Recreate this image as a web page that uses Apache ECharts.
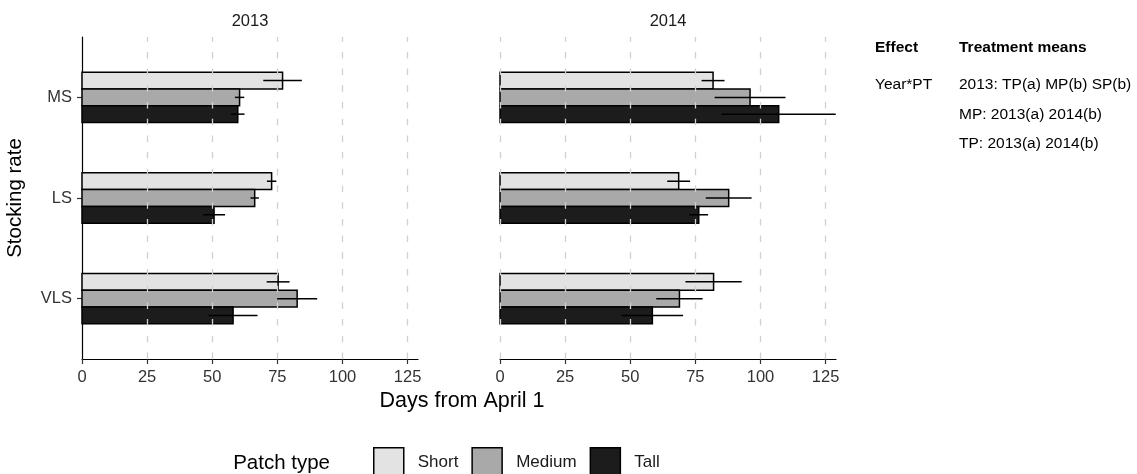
<!DOCTYPE html>
<html>
<head>
<meta charset="utf-8">
<script src="https://cdn.jsdelivr.net/npm/echarts@6/dist/echarts.min.js"></script>
<style>
  html, body { margin: 0; padding: 0; background: #fff; }
  #chart { width: 1137px; height: 474px; }
</style>
</head>
<body>
<div id="chart"></div>
<script>
// Stocking rates, top to bottom
const rates = ['MS', 'LS', 'VLS'];
const years = ['2013', '2014'];
const patchTypes = ['Short', 'Medium', 'Tall'];
const tickValues = [0, 25, 50, 75, 100, 125];

// Mean days from April 1 (MS, LS, VLS) and standard errors
const short2013 = [77.0, 72.8, 75.3];
const short2013Se = [7.4, 1.8, 4.4];
const medium2013 = [60.5, 66.3, 82.6];
const medium2013Se = [1.8, 1.6, 7.7];
const tall2013 = [59.8, 50.7, 58.0];
const tall2013Se = [2.6, 4.2, 9.4];

const short2014 = [81.8, 68.6, 82.0];
const short2014Se = [4.4, 4.4, 10.8];
const medium2014 = [96.0, 87.8, 68.9];
const medium2014Se = [13.6, 8.8, 8.9];
const tall2014 = [107.0, 76.3, 58.5];
const tall2014Se = [21.9, 3.6, 11.8];

// Side notes: effect and treatment-mean separations
const noteHeader = ['Effect', 'Treatment means'];
const noteEffect = ['Year*PT'];
const noteMeans = ['2013: TP(a) MP(b) SP(b)', 'MP: 2013(a) 2014(b)', 'TP: 2013(a) 2014(b)'];

const FONT = '"Liberation Sans", Arial, Helvetica, sans-serif';
const fills = { Short: '#e3e3e3', Medium: '#a9a9a9', Tall: '#1c1c1c' };
const offsets = { Short: 1 / 6, Medium: 0, Tall: -1 / 6 };
const BAR_H = 1 / 6;

const seriesByYear = {
  '2013': { Short: [short2013, short2013Se], Medium: [medium2013, medium2013Se], Tall: [tall2013, tall2013Se] },
  '2014': { Short: [short2014, short2014Se], Medium: [medium2014, medium2014Se], Tall: [tall2014, tall2014Se] }
};

// category index -> position on the value axis (MS on top)
const pos = i => rates.length - i;

function barRenderer(type) {
  return function (params, api) {
    const v = api.value(0);
    const y = api.value(1) + offsets[type];
    const p0 = api.coord([0, y]);
    const p1 = api.coord([v, y]);
    const h = api.size([0, BAR_H])[1];
    return {
      type: 'rect',
      shape: { x: p0[0], y: p0[1] - h / 2, width: p1[0] - p0[0], height: h },
      style: { fill: fills[type], stroke: '#000', lineWidth: 1.5 }
    };
  };
}

function errRenderer(type) {
  return function (params, api) {
    const y = api.value(2) + offsets[type];
    const a = api.coord([api.value(0), y]);
    const b = api.coord([api.value(1), y]);
    return {
      type: 'line',
      shape: { x1: a[0], y1: a[1], x2: b[0], y2: b[1] },
      style: { stroke: '#000', lineWidth: 1.5 }
    };
  };
}

const series = [];
years.forEach((yr, gi) => {
  // dashed vertical grid lines
  series.push({
    type: 'custom', xAxisIndex: gi, yAxisIndex: gi, silent: true,
    data: [], renderItem: () => null,
    markLine: {
      silent: true, symbol: 'none', animation: false,
      label: { show: false },
      lineStyle: { color: '#d0d0d0', width: 1.3, type: [6.5, 10.2] },
      data: tickValues.filter(t => gi === 1 || t > 0).map(t => ({ xAxis: t }))
    }
  });
  patchTypes.forEach(type => {
    const [means] = seriesByYear[yr][type];
    series.push({
      name: type, type: 'custom', xAxisIndex: gi, yAxisIndex: gi,
      itemStyle: { color: fills[type], borderColor: '#000', borderWidth: 1.5 },
      renderItem: barRenderer(type),
      encode: { x: 0, y: 1 },
      data: means.map((m, i) => [m, pos(i)])
    });
  });
  patchTypes.forEach(type => {
    const [means, se] = seriesByYear[yr][type];
    series.push({
      type: 'custom', xAxisIndex: gi, yAxisIndex: gi, silent: true,
      renderItem: errRenderer(type),
      encode: { x: [0, 1], y: 2 },
      data: means.map((m, i) => [m - se[i], m + se[i], pos(i)])
    });
  });
});

const GRID_TOP = 37, GRID_H = 322, GRID_W = 336;
const gridLefts = [82, 500];

const xAxisBase = gi => ({
  type: 'value', gridIndex: gi, min: 0, max: 129,
  axisLine: { show: true, lineStyle: { color: '#000', width: 1.2 } },
  axisTick: { show: true, length: 5, customValues: tickValues, lineStyle: { color: '#333', width: 1.2 } },
  axisLabel: { customValues: tickValues, margin: 10, fontSize: 16.5, color: '#333', fontFamily: FONT },
  splitLine: { show: false }
});

const yAxisBase = gi => ({
  type: 'value', gridIndex: gi, min: 0.4, max: 3.6,
  axisLine: { show: gi === 0, lineStyle: { color: '#000', width: 1.2 } },
  axisTick: { show: gi === 0, length: 5, customValues: rates.map((r, i) => pos(i)), lineStyle: { color: '#333', width: 1.2 } },
  axisLabel: {
    show: gi === 0, customValues: rates.map((r, i) => pos(i)), margin: 10,
    fontSize: 16.5, color: '#333', fontFamily: FONT,
    formatter: v => rates[rates.length - Math.round(v)]
  },
  splitLine: { show: false }
});

const text = (x, y, str, extra) => ({
  type: 'text', x, y, silent: true,
  style: Object.assign({ text: str, fontFamily: FONT, fontSize: 15.5, fill: '#000', verticalAlign: 'middle', align: 'left' }, extra || {})
});

const graphics = [
  // panel titles
  text(gridLefts[0] + GRID_W / 2, 21, years[0], { align: 'center', fontSize: 16.5, fill: '#1a1a1a' }),
  text(gridLefts[1] + GRID_W / 2, 21, years[1], { align: 'center', fontSize: 16.5, fill: '#1a1a1a' }),
  // axis titles
  text(462, 401, 'Days from April 1', { align: 'center', fontSize: 21.5 }),
  Object.assign(text(15, 198, 'Stocking rate', { align: 'center', fontSize: 20.5 }), { rotation: Math.PI / 2 }),
  // legend title
  text(330, 463, 'Patch type', { align: 'right', fontSize: 20.5 }),
  // notes
  text(875, 48, noteHeader[0], { fontWeight: 'bold' }),
  text(959, 48, noteHeader[1], { fontWeight: 'bold' }),
  text(875, 85, noteEffect[0]),
  text(959, 85, noteMeans[0]),
  text(959, 115, noteMeans[1]),
  text(959, 144, noteMeans[2])
];

const chart = echarts.init(document.getElementById('chart'), null, { renderer: 'canvas' });
chart.setOption({
  animation: false,
  backgroundColor: '#fff',
  grid: gridLefts.map(l => ({ left: l, top: GRID_TOP, width: GRID_W, height: GRID_H })),
  xAxis: [xAxisBase(0), xAxisBase(1)],
  yAxis: [yAxisBase(0), yAxisBase(1)],
  legend: {
    data: patchTypes, left: 373, top: 447, orient: 'horizontal', padding: 0,
    icon: 'rect', itemWidth: 30, itemHeight: 30, itemGap: 13, selectedMode: false,
    itemStyle: { borderColor: '#000', borderWidth: 1.5 },
    textStyle: { fontSize: 17, color: '#1a1a1a', fontFamily: FONT, padding: [0, 0, 0, 9] }
  },
  graphic: graphics,
  series
});
</script>
</body>
</html>
